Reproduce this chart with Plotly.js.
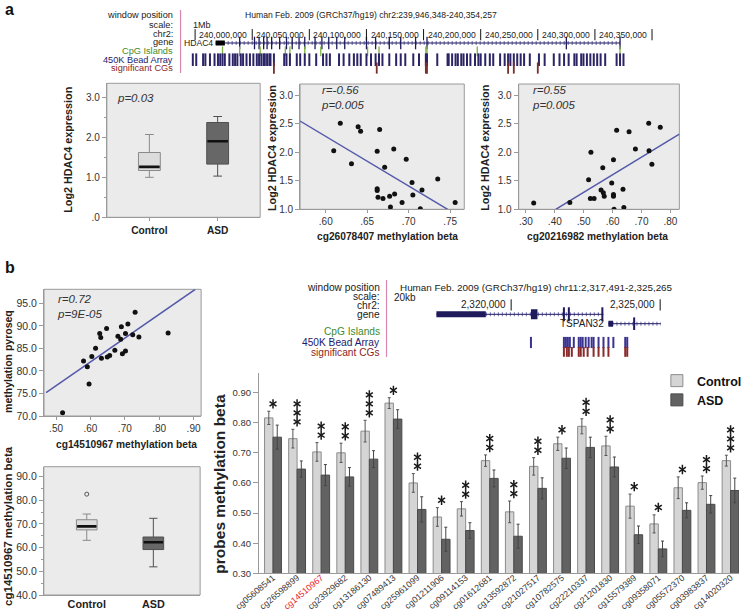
<!DOCTYPE html>
<html><head><meta charset="utf-8">
<script src="https://cdn.plot.ly/plotly-3.0.1.min.js"></script>
<style>html,body{margin:0;padding:0;background:#fff}#chart{width:747px;height:614px}</style>
</head><body><div id="chart"></div>
<script>
// ================= DATA =================
// Panel a – box plot of HDAC4 expression
const boxAGroups = ['Control', 'ASD'];
const boxAQ1  = [1.17, 1.33];
const boxAMed = [1.26, 1.90];
const boxAQ3  = [1.62, 2.37];
const boxALo  = [1.00, 1.03];
const boxAHi  = [2.07, 2.52];

// Panel a – HDAC4 expression vs cg26078407
const scatA1X = [0.6175,0.6096,0.631,0.639,0.642,0.665,0.662,0.682,0.671,0.697,0.662,0.662,0.663,0.669,0.677,0.678,0.683,0.692,0.704,0.705,0.716,0.714,0.735,0.756];
const scatA1Y = [2.51,2.03,1.80,2.45,2.37,2.40,2.02,2.06,1.74,1.88,1.36,1.33,1.21,1.19,1.23,1.04,1.27,1.12,1.47,1.25,1.34,1.01,1.53,1.12];
const fitA1X = [0.569, 0.747];
const fitA1Y = [2.55, 1.00];

// Panel a – HDAC4 expression vs cg20216982
const scatA2X = [0.327,0.452,0.517,0.525,0.523,0.536,0.560,0.568,0.571,0.566,0.597,0.603,0.603,0.603,0.605,0.614,0.636,0.639,0.657,0.679,0.725,0.726,0.736,0.765];
const scatA2Y = [1.11,1.12,1.52,2.00,1.19,1.19,1.34,1.29,1.23,1.73,1.46,1.87,1.26,1.23,1.00,2.39,1.35,1.03,2.36,2.06,2.51,2.03,1.79,2.44];
const fitA2X = [0.403, 0.831];
const fitA2Y = [1.00, 2.32];

// Panel b – pyroseq vs cg14510967 beta
const scatBX = [0.519,0.580,0.591,0.596,0.604,0.615,0.627,0.630,0.632,0.647,0.649,0.656,0.671,0.680,0.688,0.690,0.693,0.702,0.702,0.709,0.723,0.730,0.741,0.826];
const scatBY = [70.7,82.2,80.9,77.1,83.2,85.0,88.3,87.4,82.8,89.4,83.1,83.4,84.6,87.7,87.0,89.8,83.8,88.3,84.4,90.4,88.0,93.0,87.5,88.4];
const fitBX = [0.471, 0.905];
const fitBY = [75.2, 98.1];

// Panel b – box plot cg14510967
const boxBGroups = ['Control', 'ASD'];
const boxBQ1  = [67.5, 59.2];
const boxBMed = [69.0, 62.3];
const boxBQ3  = [71.8, 64.5];
const boxBLo  = [63.1, 51.9];
const boxBHi  = [74.2, 72.4];
const boxBOutX = [0];
const boxBOutY = [82.6];

// Panel b – bar chart
const probes = ['cg05608541','cg26598899','cg14510967','cg23929682','cg13186130','cg07489413','cg25961099','cg01211906','cg09114153','cg01612681','cg13592872','cg21027517','cg10782575','cg22210337','cg21201830','cg15579389','cg09358071','cg05572370','cg03983837','cg14020320'];
const ctrlVals = [0.816,0.747,0.703,0.700,0.772,0.865,0.600,0.487,0.514,0.674,0.504,0.655,0.730,0.788,0.723,0.523,0.464,0.584,0.601,0.674];
const ctrlErr  = [0.022,0.031,0.031,0.032,0.036,0.018,0.031,0.031,0.024,0.019,0.036,0.029,0.022,0.025,0.032,0.040,0.030,0.036,0.022,0.018];
const asdVals  = [0.752,0.646,0.626,0.620,0.679,0.812,0.512,0.413,0.442,0.615,0.423,0.582,0.682,0.718,0.653,0.428,0.381,0.509,0.529,0.575];
const asdErr   = [0.040,0.027,0.035,0.031,0.028,0.031,0.042,0.040,0.026,0.028,0.040,0.035,0.034,0.034,0.033,0.029,0.026,0.025,0.029,0.041];
const starCount = [1,3,2,2,3,1,2,1,2,2,2,2,1,2,2,1,1,1,2,3];
const highlightProbe = 'cg14510967';

// Genome browser a (HDAC4, positions in kb on chr2)
const winA = [239946.348, 240354.257];
const chrTicksA = [239950,240000,240050,240100,240150,240200,240250,240300,240350];
const chrLabelsA = ['', '240,000,000','240,050,000','240,100,000','240,150,000','240,200,000','240,250,000','240,300,000','240,350,000'];
const geneASpan = [239968, 240322];
const geneABlock = [239968, 239976];
const geneAExons = [239989,240002,240006,240010,240013,240017,240024,240030,240035,240041,240046,240055,240061,240067,240074,240081,240100,240108,240120,240130,240143,240153,240275,240322];
const cpgA = [239974,239989,240007,240029,240033,240046,240060,240101,240111,240152,240153,240197,240322];
const beadA = [239948,239951,239957,239959,239963,239967,239970,239972,239974,239976,239980,239983,239985,239987,239990,239992,239995,239998,240001,240004,240006,240008,240010,240011,240013,240015,240016,240019,240028,240030,240033,240039,240042,240046,240050,240056,240062,240065,240068,240076,240080,240085,240089,240092,240095,240100,240104,240108,240111,240114,240120,240126,240130,240134,240141,240146,240152,240153,240162,240171,240172,240175,240178,240180,240183,240185,240188,240191,240195,240198,240200,240204,240208,240211,240217,240221,240224,240226,240229,240232,240235,240238,240243,240251,240256,240264,240269,240273,240277,240282,240284,240288,240290,240293,240296,240299,240302,240305,240309,240319,240322,240325];
const sigA = [240019,240109,240152,240153,240224,240229,240250];

// Genome browser b (C11orf21 / TSPAN32, positions in bp on chr11)
const winB = [2317491, 2325265];
const chrTicksB = [2320000, 2325000];
const chrLabelsB = ['2,320,000', '2,325,000'];
const geneB1Span = [2317480, 2323098];
const geneB1Intron = [2319150, 2323040];
const geneB1Block = [2317480, 2319150];
const geneB1Exon = [2320664, 2320883];
const geneB1Ticks = [2321770, 2321936, 2323060];
const geneB2Span = [2323264, 2325023];
const geneB2Block = [2323264, 2323420];
const geneB2Ticks = [2324127];
const beadB = [2320664,2321770,2321836,2321902,2321969,2322102,2322268,2322334,2322400,2322500,2322600,2322700,2322766,2322932,2323098,2323264,2323430,2323828,2323895];
const sigB = [2321770,2321869,2321936,2322035,2322268,2322334,2322434,2322566,2322766,2322932,2323098,2323264,2323828,2323895];

// ================= LAYOUT HELPERS =================
const W = 747, H = 614;
const FONT = '"Liberation Sans", Arial, Helvetica, sans-serif';
const fx = v => v / W;
const fy = v => 1 - v / H;
const PANEL_BG = '#ebebeb';
const FRAME = '#9a9a9a';
const TICKC = '#333';
const TICKF = 10;

function lab(x, y, text, o) {
  return Object.assign({xref:'paper', yref:'paper', x:fx(x), y:fy(y), text:text, showarrow:false,
    xanchor:'left', yanchor:'middle', font:{family:FONT, size:10, color:'#222'}}, o || {});
}
function vtitle(x, y, text, size) {
  return lab(x, y, '<b>' + text + '</b>', {xanchor:'center', textangle:-90, font:{family:FONT, size:size || 10.5, color:'#222'}});
}
function htitle(x, y, text, size) {
  return lab(x, y, '<b>' + text + '</b>', {xanchor:'center', font:{family:FONT, size:size || 10.5, color:'#222'}});
}
function baseAxis(extra) {
  return Object.assign({showgrid:false, zeroline:false, showline:true, linecolor:FRAME, linewidth:1,
    ticks:'outside', ticklen:4, tickcolor:FRAME, tickfont:{family:FONT, size:TICKF, color:TICKC},
    fixedrange:true}, extra);
}
function panelBg(ax) {
  return {type:'rect', xref: ax[0] + ' domain', yref: ax[1] + ' domain', x0:0, x1:1, y0:0, y1:1,
    fillcolor:PANEL_BG, line:{color:FRAME, width:1}, layer:'below'};
}

const traces = [];
const annotations = [];
const shapes = [];

// ---------- box plots ----------
function addBoxes(groups, q1, med, q3, lo, hi, xa, ya, fills, lines, w) {
  groups.forEach((g, i) => {
    traces.push({type:'box', x:[i], q1:[q1[i]], median:[med[i]], q3:[q3[i]], lowerfence:[lo[i]], upperfence:[hi[i]],
      width:w, fillcolor:fills[i], line:{color:lines[i], width:1}, whiskerwidth:0.4, boxpoints:false,
      xaxis:xa, yaxis:ya, showlegend:false, hoverinfo:'skip'});
    traces.push({type:'scatter', mode:'lines', x:[i - w/2 + 0.01, i + w/2 - 0.01], y:[med[i], med[i]],
      line:{color:'#111', width:2.6}, xaxis:xa, yaxis:ya, showlegend:false, hoverinfo:'skip'});
  });
}
addBoxes(boxAGroups, boxAQ1, boxAMed, boxAQ3, boxALo, boxAHi, 'x', 'y', ['#dcdcdc', '#676767'], ['#8a8a8a', '#505050'], 0.32);
addBoxes(boxBGroups, boxBQ1, boxBMed, boxBQ3, boxBLo, boxBHi, 'x5', 'y5', ['#dcdcdc', '#676767'], ['#8a8a8a', '#505050'], 0.31);
traces.push({type:'scatter', mode:'markers', x:boxBOutX, y:boxBOutY, marker:{symbol:'circle-open', size:4, color:'#555', line:{width:1}},
  xaxis:'x5', yaxis:'y5', showlegend:false, hoverinfo:'skip'});

// ---------- scatter plots ----------
function addScatter(xs, ys, fxs, fys, xa, ya) {
  traces.push({type:'scatter', mode:'lines', x:fxs, y:fys, line:{color:'#5359a8', width:1.5}, xaxis:xa, yaxis:ya, showlegend:false, hoverinfo:'skip'});
  traces.push({type:'scatter', mode:'markers', x:xs, y:ys, marker:{color:'#111', size:5}, xaxis:xa, yaxis:ya, showlegend:false, hoverinfo:'skip'});
}
addScatter(scatA1X, scatA1Y, fitA1X, fitA1Y, 'x2', 'y2');
addScatter(scatA2X, scatA2Y, fitA2X, fitA2Y, 'x3', 'y3');
addScatter(scatBX, scatBY, fitBX, fitBY, 'x4', 'y4');

// ---------- bar chart ----------
const barTop = 373.3, barBottom = 573.3, barRange = [0.30, 0.964];
const pxPerUnit = (barBottom - barTop) / (barRange[1] - barRange[0]);
traces.push({type:'bar', name:'<b>Control</b>', x:probes.map((p, i) => i), y:ctrlVals,
  marker:{color:'#d5d5d5', line:{color:'#8c8c8c', width:1}},
  error_y:{type:'data', array:ctrlErr, visible:true, color:'#555', thickness:1, width:1.5},
  xaxis:'x6', yaxis:'y6', hoverinfo:'skip'});
traces.push({type:'bar', name:'<b>ASD</b>', x:probes.map((p, i) => i), y:asdVals,
  marker:{color:'#626262', line:{color:'#4a4a4a', width:1}},
  error_y:{type:'data', array:asdErr, visible:true, color:'#444', thickness:1, width:1.5},
  xaxis:'x6', yaxis:'y6', hoverinfo:'skip'});
// significance asterisks (6-armed), stacked above the Control error bar
const starX = [], starY = [];
probes.forEach((p, i) => {
  for (let k = 0; k < starCount[i]; k++) {
    starX.push(i);
    starY.push(ctrlVals[i] + ctrlErr[i] + (7.4 + 9 * k) / pxPerUnit);
  }
});
['y-up-open', 'y-down-open'].forEach(sym => traces.push({type:'scatter', mode:'markers', x:starX, y:starY,
  marker:{symbol:sym, size:5.8, color:'#1a1a1a', line:{color:'#1a1a1a', width:1.5}}, xaxis:'x6', yaxis:'y6', showlegend:false, hoverinfo:'skip', cliponaxis:false}));

// ---------- genome browsers ----------
function tickTrace(xs, row, color, size, width, xa, ya) {
  return {type:'scatter', mode:'markers', x:xs, y:xs.map(() => row),
    marker:{symbol:'line-ns', size:size, line:{color:color, width:width}},
    xaxis:xa, yaxis:ya, showlegend:false, hoverinfo:'skip', cliponaxis:false};
}
function segTrace(span, row, color, width, xa, ya, dash) {
  return {type:'scatter', mode:'lines', x:span, y:[row, row], line:{color:color, width:width, dash:dash || 'solid'},
    xaxis:xa, yaxis:ya, showlegend:false, hoverinfo:'skip', cliponaxis:false};
}
const NAVY = '#1e1a5c', GREEN = '#7cb342', DRED = '#7a2d2d', BEAD = '#2b2466', HATCH = '#6f6cae';
const GA = 8.6, GB = 10;
// a
traces.push(segTrace(geneASpan, 0, HATCH, 4, 'x7', 'y7', '1px,3px'));
traces.push(segTrace(geneASpan, 0, NAVY, 1, 'x7', 'y7'));
traces.push(segTrace(geneABlock, 0, '#000', 5, 'x7', 'y7'));
traces.push(tickTrace(geneAExons, 0, NAVY, 9, 1.3, 'x7', 'y7'));
traces.push(tickTrace(cpgA, 1, GREEN, 7, 1.3, 'x7', 'y7'));
traces.push(tickTrace(beadA, 2, BEAD, 9, 2, 'x7', 'y7'));
traces.push(tickTrace(sigA, 3, DRED, 8, 1.8, 'x7', 'y7'));
traces.push(tickTrace(chrTicksA, -1, '#111', 8, 1, 'x7', 'y7'));
chrTicksA.forEach((t, i) => {
  if (chrLabelsA[i]) annotations.push({xref:'x7', yref:'y7', x:t, y:-1, text:chrLabelsA[i], showarrow:false,
    xanchor:'right', xshift:-3, yanchor:'middle', font:{family:FONT, size:GA, color:'#222'}});
});
annotations.push({xref:'x7', yref:'y7', x:geneABlock[0], y:0, text:'HDAC4', showarrow:false, xanchor:'right', xshift:-1,
  yanchor:'middle', font:{family:FONT, size:GA, color:'#222'}});
// b
traces.push(segTrace(geneB1Intron, 0, HATCH, 4, 'x8', 'y8', '1px,3px'));
traces.push(segTrace(geneB1Span, 0, NAVY, 1, 'x8', 'y8'));
traces.push(segTrace(geneB1Block, 0, NAVY, 6, 'x8', 'y8'));
traces.push(segTrace(geneB1Exon, 0, NAVY, 10, 'x8', 'y8'));
traces.push(tickTrace(geneB1Ticks, 0, NAVY, 10, 2, 'x8', 'y8'));
traces.push(segTrace(geneB2Span, 1, HATCH, 4, 'x8', 'y8', '1px,3px'));
traces.push(segTrace(geneB2Span, 1, NAVY, 1, 'x8', 'y8'));
traces.push(segTrace(geneB2Block, 1, NAVY, 6, 'x8', 'y8'));
traces.push(tickTrace(geneB2Ticks, 1, NAVY, 9, 2, 'x8', 'y8'));
traces.push(tickTrace(beadB, 3, '#3a3390', 8, 2, 'x8', 'y8'));
traces.push(tickTrace(sigB, 4, '#8a2a2a', 7, 2, 'x8', 'y8'));
traces.push(tickTrace(chrTicksB, -1, '#111', 8, 1, 'x8', 'y8'));
chrTicksB.forEach((t, i) => {
  annotations.push({xref:'x8', yref:'y8', x:t, y:-1, text:chrLabelsB[i], showarrow:false,
    xanchor:'right', xshift:-3, yanchor:'middle', font:{family:FONT, size:GB, color:'#222'}});
});
annotations.push({xref:'x8', yref:'y8', x:geneB1Block[0], y:0, text:'C11orf21', showarrow:false, xanchor:'right', xshift:-1,
  yanchor:'middle', font:{family:FONT, size:GB, color:'#222'}});
annotations.push({xref:'x8', yref:'y8', x:geneB2Block[0], y:1, text:'TSPAN32', showarrow:false, xanchor:'right', xshift:-2,
  yanchor:'middle', font:{family:FONT, size:GB, color:'#222'}});

// ---------- text labels ----------
const gLabA = [['window position', 15, '#222'], ['scale:', 24.5, '#222'], ['chr2:', 33.5, '#222'], ['gene', 42, '#222'],
  ['CpG Islands', 51, '#3f8a2a'], ['450K Bead Array', 59.5, '#1e1a6e'], ['significant CGs', 68, '#8a1f1f']];
gLabA.forEach(r => annotations.push(lab(177, r[1], r[0], {xanchor:'right', font:{family:FONT, size:9.2, color:r[2]}})));
annotations.push(lab(246, 15, 'Human Feb. 2009 (GRCh37/hg19) chr2:239,946,348-240,354,257', {font:{family:FONT, size:GA, color:'#222'}}));
annotations.push(lab(193, 25, '1Mb', {font:{family:FONT, size:9, color:'#222'}}));
const gLabB = [['window position', 287.3, '#222'], ['scale:', 296.8, '#222'], ['chr2:', 305.9, '#222'], ['gene', 314.5, '#222'],
  ['CpG Islands', 331, '#3f8a2a'], ['450K Bead Array', 342.3, '#1e1a6e'], ['significant CGs', 352.5, '#8a1f1f']];
gLabB.forEach(r => annotations.push(lab(386, r[1], r[0], {xanchor:'right', font:{family:FONT, size:10.2, color:r[2]}})));
annotations.push(lab(402, 287.3, 'Human Feb. 2009 (GRCh37/hg19) chr11:2,317,491-2,325,265', {font:{family:FONT, size:9.9, color:'#222'}}));
annotations.push(lab(396.5, 297.5, '20kb', {font:{family:FONT, size:GB, color:'#222'}}));
shapes.push({type:'line', xref:'paper', yref:'paper', x0:fx(182.5), x1:fx(182.5), y0:fy(10), y1:fy(73), line:{color:'#d888b0', width:1.2}});
shapes.push({type:'line', xref:'paper', yref:'paper', x0:fx(390.7), x1:fx(390.7), y0:fy(280), y1:fy(357), line:{color:'#d888b0', width:1.2}});

// panel letters
annotations.push(lab(3, 9, '<b>a</b>', {font:{family:FONT, size:16, color:'#111'}}));
annotations.push(lab(3, 267, '<b>b</b>', {font:{family:FONT, size:16, color:'#111'}}));

// stats text
const ital = {family:FONT, size:11.5, color:'#333'};
annotations.push(lab(116, 98.5, '<i>p=0.03</i>', {font:ital}));
annotations.push(lab(322, 97.8, '<i>r=-0.56<br>p=0.005</i>', {font:ital, align:'left'}));
annotations.push(lab(536, 97.8, '<i>r=0.55<br>p=0.005</i>', {font:ital, align:'left'}));
annotations.push(lab(56, 306.5, '<i>r=0.72<br>p=9E-05</i>', {font:ital, align:'left'}));

// axis titles
annotations.push(vtitle(68.5, 150, 'Log2 HDAC4 expression', 10.8));
annotations.push(vtitle(275, 148, 'Log2 HDAC4 expression', 10.8));
annotations.push(vtitle(490, 148, 'Log2 HDAC4 expression', 10.8));
annotations.push(htitle(391.5, 237, 'cg26078407 methylation beta', 10.2));
annotations.push(htitle(604, 237, 'cg20216982 methylation beta', 10.2));
annotations.push(vtitle(8, 361, 'methylation pyroseq', 10.5));
annotations.push(htitle(128, 444.5, 'cg14510967 methylation beta', 10.2));
annotations.push(vtitle(8, 526, 'cg14510967 methylation beta', 11.5));
annotations.push(vtitle(221, 484, 'probes methylation beta', 15.5));

// backgrounds for framed panels
[['x','y'], ['x2','y2'], ['x3','y3'], ['x4','y4'], ['x5','y5']].forEach(a => shapes.push(panelBg(a)));

const probeTickText = probes.map(p => p === highlightProbe ? '<span style="color:#e8201e">' + p + '</span>' : p);
const boldCat = {family:FONT, size:10.2, color:'#222'};

const layout = {
  width: W, height: H, margin: {l:0, r:0, t:0, b:0}, paper_bgcolor:'#fff', plot_bgcolor:'rgba(0,0,0,0)',
  font: {family: FONT, color:'#222'}, showlegend: true, barmode:'group', bargap:0.3, bargroupgap:0,
  legend: {x: fx(664), y: fy(366), xanchor:'left', yanchor:'top', bgcolor:'rgba(0,0,0,0)', font:{family:FONT, size:12.5, color:'#111'},
    itemwidth:30, tracegroupgap:0},
  // box a
  xaxis: baseAxis({domain:[fx(108), fx(263)], range:[-0.623, 1.623], tickvals:[0, 1], ticktext:boxAGroups.map(g => '<b>' + g + '</b>'),
    ticklen:3, tickfont:boldCat, anchor:'y'}),
  yaxis: baseAxis({domain:[fy(217.3), fy(83.3)], range:[0, 3.35], tickvals:[0, 1, 2, 3], ticktext:['.0', '1.0', '2.0', '3.0'],
    minor:{ticks:'outside', ticklen:2, dtick:0.5, tickcolor:FRAME}, anchor:'x'}),
  // scatter a mid
  xaxis2: baseAxis({domain:[fx(303.3), fx(469.3)], range:[0.569, 0.767], tickvals:[0.60, 0.65, 0.70, 0.75], ticktext:['.60', '.65', '.70', '.75'], ticklen:3, anchor:'y2'}),
  yaxis2: baseAxis({domain:[fy(209.3), fy(84)], range:[1.0, 3.2], tickvals:[1.0, 1.5, 2.0, 2.5, 3.0], ticktext:['1.0', '1.5', '2.0', '2.5', '3.0'], anchor:'x2'}),
  // scatter a right
  xaxis3: baseAxis({domain:[fx(524.3), fx(686.7)], range:[0.275, 0.831], tickvals:[0.3, 0.4, 0.5, 0.6, 0.7, 0.8], ticktext:['.30', '.40', '.50', '.60', '.70', '.80'], ticklen:3, anchor:'y3'}),
  yaxis3: baseAxis({domain:[fy(209.3), fy(84)], range:[1.0, 3.2], tickvals:[1.0, 1.5, 2.0, 2.5, 3.0], ticktext:['1.0', '1.5', '2.0', '2.5', '3.0'], anchor:'x3'}),
  // scatter b
  xaxis4: baseAxis({domain:[fx(44.5), fx(203.3)], range:[0.465, 0.922], tickvals:[0.5, 0.6, 0.7, 0.8, 0.9], ticktext:['.50', '.60', '.70', '.80', '.90'], ticklen:3, anchor:'y4'}),
  yaxis4: baseAxis({domain:[fy(416), fy(289.3)], range:[70, 98.1], tickvals:[70, 75, 80, 85, 90, 95], ticktext:['70.0', '75.0', '80.0', '85.0', '90.0', '95.0'],
    tickfont:{family:FONT, size:10.5, color:TICKC}, anchor:'x4'}),
  // box b
  xaxis5: baseAxis({domain:[fx(44.3), fx(202.3)], range:[-0.645, 1.703], tickvals:[0, 1], ticktext:boxBGroups.map(g => '<b>' + g + '</b>'),
    ticks:'', ticklabelstandoff:-1, tickfont:{family:FONT, size:10.8, color:'#222'}, anchor:'y5'}),
  yaxis5: baseAxis({domain:[fy(595), fy(466.7)], range:[40, 94.2], tickvals:[40, 50, 60, 70, 80, 90], ticktext:['40.0', '50.0', '60.0', '70.0', '80.0', '90.0'],
    tickfont:{family:FONT, size:10.5, color:TICKC}, minor:{ticks:'outside', ticklen:2, dtick:5, tickcolor:FRAME}, anchor:'x5'}),
  // bar chart
  xaxis6: baseAxis({domain:[fx(261.7), 1], range:[-0.586, 19.35], tickvals:probes.map((p, i) => i), ticktext:probeTickText,
    tickangle:-40, ticks:'', ticklabelstandoff:-5, tickfont:{family:FONT, size:8.8, color:'#333'}, anchor:'y6'}),
  yaxis6: baseAxis({domain:[fy(barBottom), fy(barTop)], range:barRange, tickvals:[0.3, 0.4, 0.5, 0.6, 0.7, 0.8, 0.9], tickformat:'.2f', ticklen:5,
    tickfont:{family:FONT, size:9.5, color:TICKC}, anchor:'x6'}),
  // genome a
  xaxis7: {domain:[fx(193), fx(664)], range:winA, visible:false, fixedrange:true, anchor:'y7'},
  yaxis7: {domain:[fy(72.2), fy(30.5)], range:[3.5, -1.5], visible:false, fixedrange:true, anchor:'x7'},
  // genome b
  xaxis8: {domain:[fx(441.1), fx(675.3)], range:winB, visible:false, fixedrange:true, anchor:'y8'},
  yaxis8: {domain:[fy(356.6), fy(300.2)], range:[4.5, -1.5], visible:false, fixedrange:true, anchor:'x8'},
  annotations: annotations,
  shapes: shapes
};

Plotly.newPlot('chart', traces, layout, {displayModeBar:false, staticPlot:true});
</script>
</body></html>
